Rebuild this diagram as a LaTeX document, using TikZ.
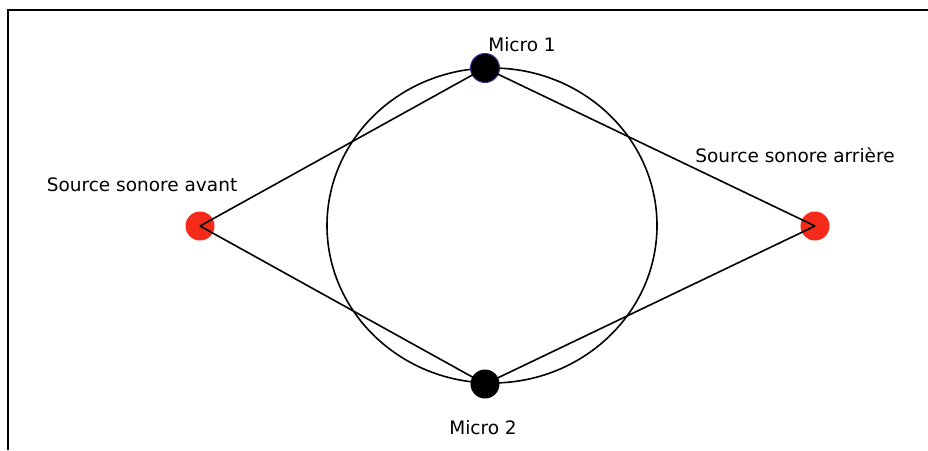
\documentclass[tikz,border=0pt]{standalone}
\usepackage{fontspec}
\setmainfont{DejaVu Sans}
\usetikzlibrary{positioning}
\definecolor{sourcered}{RGB}{245, 42, 26}
\definecolor{microblue}{RGB}{50, 50, 150}

\begin{document}
\begin{tikzpicture}[x=1pt, y=-1pt,
  dot/.style={circle, inner sep=0pt, minimum size=29pt},
  micro/.style={dot, fill=black},
  source/.style={dot, fill=sourcered},
  lbl/.style={font=\fontsize{18.5}{22}\selectfont, inner sep=0pt}]

  \useasboundingbox (0, 0) rectangle (928, 450);

  % --- Frame (cut off on the right and at the bottom) ---
  \draw[line width=2pt] (8, 450) -- (8, 10) -- (928, 10);

  % --- Circle around the microphones ---
  \draw[line width=1.6pt] (492, 225.5) ellipse (165 and 157.5);

  % --- Microphones and sources ---
  \node[micro, draw=microblue, line width=1pt] (mic1) at (485, 68) {};
  \node[micro] (mic2) at (485, 384) {};
  \node[source] (front) at (200, 226) {};
  \node[source] (rear) at (815, 226) {};

  % Paths from the sources to the microphones
  \foreach \src in {front, rear} {
    \draw[line width=1.6pt] (\src.center) -- (mic1.center);
    \draw[line width=1.6pt] (\src.center) -- (mic2.center);
  }

  % --- Labels ---
  \node[lbl] at (522, 45) {Micro 1};
  \node[lbl] at (483, 428) {Micro 2};
  \node[lbl] at (142, 185) {Source sonore avant};
  \node[lbl] at (795, 155) {Source sonore arrière};

\end{tikzpicture}
\end{document}
